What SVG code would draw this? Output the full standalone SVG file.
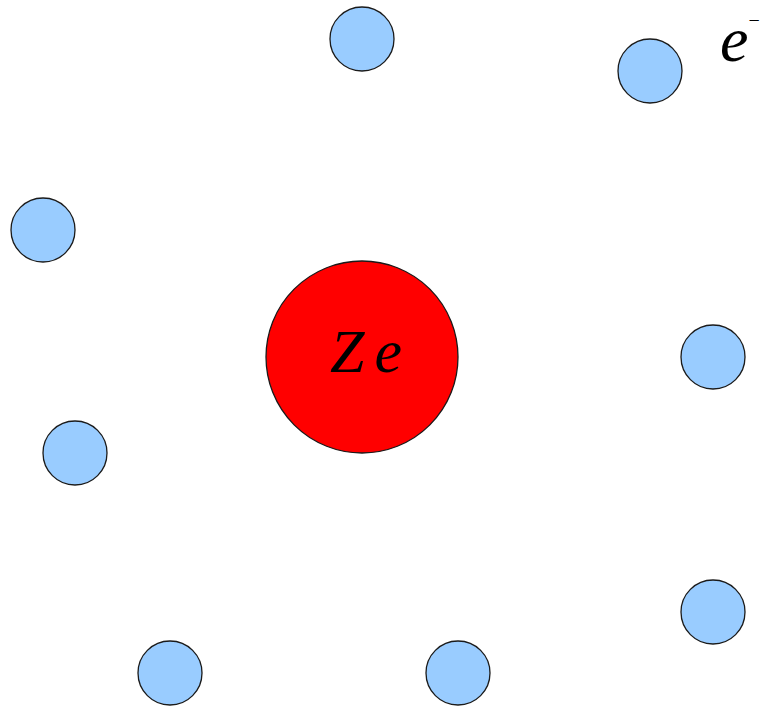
<svg xmlns="http://www.w3.org/2000/svg" width="761" height="709" viewBox="0 0 761 709">
<style>
.e{fill:#99ccff;stroke:#1a1a1a;stroke-width:1.3}
.n{fill:#ff0000;stroke:#1a1a1a;stroke-width:1.3}
.t{font-family:"Liberation Serif","DejaVu Serif",serif;font-style:italic;fill:#000}
</style>
<rect width="761" height="709" fill="#fff"/>
<g id="nucleus"><circle class="n" cx="362" cy="357" r="96"/><text class="t" x="330" y="372" font-size="62">Z<tspan dx="10">e</tspan></text></g>
<g id="e1"><circle class="e" cx="362" cy="39" r="32"/></g>
<g id="e2"><circle class="e" cx="650" cy="71" r="32"/></g>
<g id="e3"><circle class="e" cx="43" cy="230" r="32"/></g>
<g id="e4"><circle class="e" cx="713" cy="357" r="32"/></g>
<g id="e5"><circle class="e" cx="75" cy="453" r="32"/></g>
<g id="e6"><circle class="e" cx="713" cy="612" r="32"/></g>
<g id="e7"><circle class="e" cx="170" cy="673" r="32"/></g>
<g id="e8"><circle class="e" cx="458" cy="673" r="32"/></g>
<g id="label"><text class="t" x="720" y="61" font-size="64">e<tspan font-size="20" font-style="normal" dy="-34">−</tspan></text></g>
<g id="connectors"/>
</svg>
